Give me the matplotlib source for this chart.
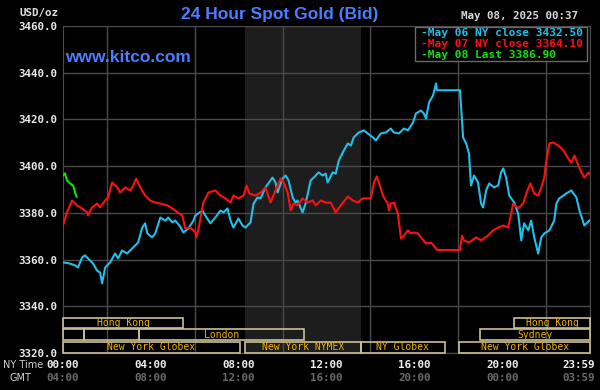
import matplotlib.pyplot as plt
from matplotlib.patches import Rectangle
from matplotlib.transforms import ScaledTranslation
import numpy as np

# price traces, hours in NY time
cyan_hours = [0, 0.32, 0.55, 0.68, 0.87, 1.0, 1.14, 1.37, 1.55, 1.69, 1.78, 1.92, 2.15, 2.37,
              2.51, 2.69, 2.92, 3.06, 3.2, 3.42, 3.61, 3.74, 3.84, 4.06, 4.2, 4.29, 4.43, 4.66,
              4.79, 4.98, 5.11, 5.3, 5.48, 5.71, 5.94, 6.03, 6.35, 6.48, 6.71, 6.94, 7.17, 7.31,
              7.49, 7.63, 7.76, 7.99, 8.17, 8.31, 8.54, 8.68, 8.86, 9.0, 9.22, 9.54, 9.68, 9.77,
              10.0, 10.14, 10.27, 10.46, 10.59, 10.68, 10.91, 11.05, 11.28, 11.42, 11.64, 11.83,
              11.96, 12.05, 12.28, 12.42, 12.56, 12.79, 12.97, 13.11, 13.24, 13.47, 13.7, 13.88,
              14.11, 14.25, 14.47, 14.7, 14.93, 15.07, 15.3, 15.53, 15.71, 15.94, 16.07, 16.3,
              16.44, 16.53, 16.67, 16.85, 16.99, 17.03, 18.08, 18.13, 18.22, 18.36, 18.49, 18.58,
              18.72, 18.9, 19.04, 19.13, 19.27, 19.41, 19.63, 19.82, 19.95, 20.05, 20.18, 20.32,
              20.55, 20.73, 20.87, 21.0, 21.19, 21.32, 21.46, 21.64, 21.78, 21.92, 22.15, 22.37,
              22.47, 22.6, 22.79, 22.92, 23.15, 23.38, 23.52, 23.74, 23.97]
cyan_price = [3358.8, 3358.3, 3357.5, 3356.6, 3360.9, 3361.8, 3360.5, 3358.3, 3355.3, 3354.4,
              3349.8, 3356.6, 3358.8, 3362.6, 3360.5, 3363.9, 3362.6, 3363.9, 3365.2, 3367.3,
              3373.7, 3375.5, 3371.2, 3369.5, 3371.2, 3373.7, 3378.0, 3376.7, 3378.0, 3375.9,
              3376.7, 3374.6, 3371.6, 3373.3, 3376.7, 3378.9, 3381.0, 3378.9, 3375.5, 3378.0,
              3381.0, 3380.2, 3381.9, 3376.7, 3373.7, 3377.6, 3374.6, 3373.7, 3375.9, 3384.0,
              3386.6, 3386.2, 3390.9, 3395.1, 3393.0, 3388.7, 3394.7, 3396.0, 3393.9, 3386.6,
              3384.4, 3385.3, 3380.2, 3384.0, 3393.9, 3395.1, 3397.3, 3396.0, 3396.8, 3393.0,
              3397.3, 3396.8, 3402.4, 3406.7, 3409.7, 3408.8, 3412.3, 3414.4, 3415.3, 3414.0,
              3412.3, 3411.0, 3414.0, 3414.4, 3416.1, 3414.4, 3414.0, 3416.1, 3415.3, 3418.7,
              3422.5, 3423.8, 3422.5, 3420.4, 3427.3, 3430.2, 3435.4, 3432.5, 3432.5, 3425.1,
              3412.3, 3409.7, 3405.4, 3391.7, 3396.0, 3393.0, 3384.0, 3382.3, 3389.6, 3392.6,
              3390.9, 3391.7, 3397.3, 3399.0, 3395.1, 3387.4, 3384.4, 3379.7, 3368.2, 3375.5,
              3372.5, 3376.7, 3369.5, 3362.6, 3369.5, 3371.2, 3372.5, 3376.7, 3384.0, 3386.2,
              3387.4, 3388.3, 3389.6, 3386.6, 3381.0, 3374.6, 3376.7]

red_hours = [0, 0.18, 0.41, 0.64, 0.87, 1.1, 1.14, 1.32, 1.55, 1.69, 1.92, 2.05, 2.24, 2.47,
             2.6, 2.83, 3.06, 3.2, 3.33, 3.52, 3.74, 3.97, 4.2, 4.43, 4.75, 4.98, 5.21, 5.43,
             5.57, 5.8, 5.94, 6.03, 6.07, 6.16, 6.39, 6.62, 6.94, 7.17, 7.4, 7.63, 7.76, 7.99,
             8.22, 8.36, 8.49, 8.77, 9.0, 9.22, 9.45, 9.68, 9.91, 10.05, 10.23, 10.37, 10.5,
             10.68, 10.91, 11.14, 11.37, 11.51, 11.74, 11.96, 12.19, 12.42, 12.65, 12.97, 13.2,
             13.42, 13.65, 14.02, 14.16, 14.29, 14.47, 14.61, 14.79, 14.84, 14.93, 15.07, 15.25,
             15.39, 15.53, 15.71, 15.84, 15.98, 16.16, 16.3, 16.53, 16.76, 16.99, 17.03, 18.08,
             18.17, 18.26, 18.49, 18.81, 19.04, 19.36, 19.59, 19.82, 20.05, 20.27, 20.41, 20.5,
             20.73, 20.96, 21.1, 21.28, 21.46, 21.64, 21.78, 21.92, 22.01, 22.15, 22.33, 22.56,
             22.79, 23.01, 23.15, 23.29, 23.47, 23.61, 23.74, 23.93, 23.97]
red_price = [3374.6, 3380.2, 3385.3, 3383.2, 3381.9, 3380.2, 3378.9, 3382.3, 3384.0, 3382.3,
             3385.3, 3386.6, 3393.0, 3390.9, 3388.7, 3390.9, 3389.6, 3391.7, 3394.7, 3390.9,
             3387.4, 3385.3, 3384.4, 3384.0, 3383.2, 3381.9, 3380.2, 3378.9, 3373.3, 3373.7,
             3372.5, 3371.6, 3369.5, 3372.5, 3384.4, 3388.7, 3389.6, 3387.4, 3386.2, 3384.4,
             3387.4, 3386.2, 3387.4, 3391.7, 3388.3, 3387.4, 3388.7, 3390.9, 3384.4, 3389.6,
             3394.7, 3393.0, 3388.7, 3381.0, 3384.0, 3383.2, 3386.2, 3384.4, 3385.3, 3383.2,
             3385.3, 3384.4, 3384.4, 3380.2, 3383.2, 3387.0, 3385.3, 3384.4, 3386.2, 3386.2,
             3393.0, 3395.6, 3390.4, 3386.6, 3384.0, 3381.0, 3384.0, 3384.4, 3379.7, 3369.0,
             3370.3, 3372.5, 3371.2, 3371.6, 3371.2, 3369.5, 3366.9, 3367.3, 3364.7, 3364.1,
             3364.1, 3370.3, 3368.2, 3367.3, 3369.5, 3368.2, 3370.3, 3372.5, 3373.7, 3374.6,
             3373.7, 3379.7, 3384.0, 3381.9, 3384.0, 3388.3, 3392.6, 3388.3, 3387.4, 3390.9,
             3395.1, 3402.4, 3409.7, 3410.1, 3408.8, 3406.7, 3403.2, 3401.5, 3404.5, 3400.3,
             3397.3, 3395.1, 3397.3, 3396.8]

green_hours = [0, 0.09, 0.18, 0.32, 0.46, 0.55, 0.62]
green_price = [3396.0, 3396.9, 3393.9, 3392.6, 3391.7, 3388.7, 3386.9]

legend_labels = ["May 06 NY close 3432.50", "May 07 NY close 3364.10", "May 08 Last 3386.90"]

tick_hours = [0, 4, 8, 12, 16, 20, 23.983]
ny_labels = ["00:00", "04:00", "08:00", "12:00", "16:00", "20:00", "23:59"]
gmt_labels = ["04:00", "08:00", "12:00", "16:00", "20:00", "00:00", "03:59"]
price_ticks = [3320, 3340, 3360, 3380, 3400, 3420, 3440, 3460]

# trading sessions (label, start hour, end hour), one list per row, top to bottom
sessions_top = [("Hong Kong", 0.0, 5.48), ("Hong Kong", 20.55, 24.0)]
sessions_mid = [("", 0.0, 0.96), ("", 0.96, 3.47), ("London", 3.47, 10.96), ("Sydney", 19.0, 24.0)]
sessions_bot = [("New York Globex", 0.0, 8.04), ("New York NYMEX", 8.31, 13.56),
                ("NY Globex", 13.56, 17.4), ("New York Globex", 18.04, 24.0)]
comex_span = (8.31, 13.56)

CYAN = "#1fc0ea"
RED = "#ff1010"
GREEN = "#10e010"
BLUE = "#4c7cff"
MONO = "DejaVu Sans Mono"

fig = plt.figure(figsize=(6, 3.9), dpi=100, facecolor="black")
ax = fig.add_axes([63 / 600, 37 / 390, 527 / 600, 327 / 390], facecolor="black")

ax.axvspan(*comex_span, color="#1d1d1d", zorder=0, lw=0)

ax.plot(cyan_hours, cyan_price, color=CYAN, lw=1.5, zorder=3)
ax.plot(red_hours, red_price, color=RED, lw=1.5, zorder=3)
ax.plot(green_hours, green_price, color=GREEN, lw=1.5, zorder=3)

ax.set_xlim(0, 24)
ax.set_ylim(3320, 3460)
ax.set_yticks(price_ticks)
ax.set_yticklabels([f"{p:.1f}" for p in price_ticks], fontfamily=MONO,
                   fontweight="bold", fontsize=7.8, color="#e8e8e8")
ax.set_xticks(tick_hours)
ax.set_xticklabels(ny_labels, fontfamily=MONO, fontweight="bold", fontsize=7.8, color="#f0f0f0")
ax.set_xticks(np.arange(0, 25, 2), minor=True)
ax.tick_params(axis="both", which="both", length=0)
ax.tick_params(axis="y", pad=4)
ax.tick_params(axis="x", pad=5)
ax.grid(axis="y", color="#4a4a4a", lw=1)
ax.grid(axis="x", which="minor", color="#4a4a4a", lw=1)
for s in ax.spines.values():
    s.set_color("#4a4a4a")

# last label sits flush with the right edge
shift = ScaledTranslation(5 / 100, 0, fig.dpi_scale_trans)
last = ax.get_xticklabels()[-1]
last.set_ha("right")
last.set_transform(last.get_transform() + shift)

# GMT row under the NY time labels
xt = ax.get_xaxis_transform()
for h, lab in zip(tick_hours, gmt_labels):
    t = ax.text(h, -0.077, lab, transform=xt, ha="center", va="center", fontfamily=MONO,
                fontweight="bold", fontsize=7.8, color="#6a6a6a", clip_on=False)
    if lab == gmt_labels[-1]:
        t.set_ha("right")
        t.set_transform(xt + shift)
fig.text(3 / 600, 1 - 365 / 390, "NY Time", ha="left", va="center", fontsize=7, color="#d0d0d0")
fig.text(9 / 600, 1 - 378 / 390, "GMT", ha="left", va="center", fontsize=7, color="#d0d0d0")

# session boxes along the bottom
row_h = 0.0365
for row, sess in enumerate([sessions_bot, sessions_mid, sessions_top]):
    y0 = row * row_h + (0.002 if row else 0.0)
    for lab, a, b in sess:
        ax.add_patch(Rectangle((a, y0), b - a, row_h - 0.003, transform=xt, fill=False,
                               edgecolor="#c8c196", lw=1.2, zorder=4, clip_on=False))
        if lab:
            ax.text((a + b) / 2, y0 + row_h / 2 - 0.001, lab, transform=xt, ha="center",
                    va="center", fontfamily=MONO, fontsize=7, color="#f0b000", zorder=5)

# legend box
ax.add_patch(Rectangle((0.668, 0.892), 0.326, 0.105, transform=ax.transAxes,
                       facecolor="black", edgecolor="#6a6a6a", lw=1, zorder=6))
for i, (lab, col) in enumerate(zip(legend_labels, [CYAN, RED, GREEN])):
    ax.text(0.679, 0.978 - i * 0.034, "-" + lab, transform=ax.transAxes, ha="left", va="center",
            fontfamily=MONO, fontweight="bold", fontsize=8, color=col, zorder=7)

# header texts
fig.text(19 / 600, 1 - 13 / 390, "USD/oz", ha="left", va="center", fontfamily=MONO,
         fontweight="bold", fontsize=7.8, color="#e0e0e0")
fig.text(280 / 600, 1 - 15 / 390, "24 Hour Spot Gold (Bid)", ha="center", va="center",
         fontfamily="Liberation Sans", fontweight="bold", fontsize=12.5, color=BLUE)
fig.text(578 / 600, 1 - 16 / 390, "May 08, 2025 00:37", ha="right", va="center", fontfamily=MONO,
         fontweight="bold", fontsize=7.8, color="#d8d8d8")
ax.text(0.004, 0.905, "www.kitco.com", transform=ax.transAxes, ha="left", va="center",
        fontfamily="Liberation Sans", fontweight="bold", fontsize=12.5, color=BLUE, zorder=5)

fig.savefig("out.png", dpi=100, facecolor="black")
